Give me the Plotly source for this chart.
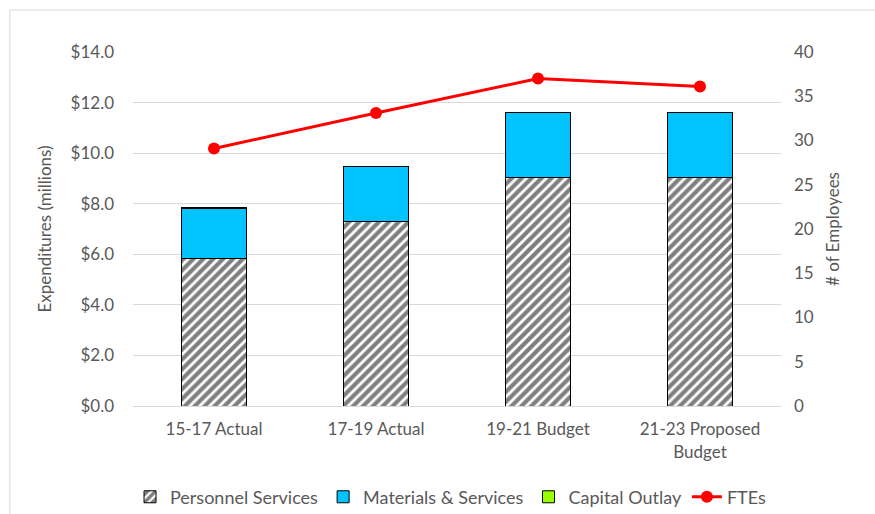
import plotly.graph_objects as go

# Biennium labels and spending (millions of dollars)
periods = ["15-17 Actual", "17-19 Actual", "19-21 Budget", "21-23 Proposed<br>Budget"]
personnel_services = [5.85, 7.29, 9.04, 9.04]
materials_services = [1.96, 2.20, 2.55, 2.57]
capital_outlay = [0.03, 0.0, 0.03, 0.0]
# Full-time equivalent positions
ftes = [29.1, 33.1, 37.0, 36.1]

left_ticks = [0, 2, 4, 6, 8, 10, 12, 14]
left_tick_text = ["$0.0", "$2.0", "$4.0", "$6.0", "$8.0", "$10.0", "$12.0", "$14.0"]
right_ticks = [0, 5, 10, 15, 20, 25, 30, 35, 40]

font_family = "Lato, 'Open Sans', sans-serif"
text_gray = "#595959"
grid_gray = "#d9d9d9"
fs = 17

fig = go.Figure()

fig.add_trace(go.Bar(
    x=periods, y=personnel_services, name="Personnel Services",
    marker=dict(color="white", line=dict(color="black", width=1),
                pattern=dict(shape="/", fgcolor="black", bgcolor="white",
                             size=7, solidity=0.6)),
))
fig.add_trace(go.Bar(
    x=periods, y=materials_services, name="Materials & Services",
    marker=dict(color="#00C3FF", line=dict(color="black", width=1)),
))
fig.add_trace(go.Bar(
    x=periods, y=capital_outlay, name="Capital Outlay",
    marker=dict(color="#99FF00", line=dict(color="black", width=1)),
))
fig.add_trace(go.Scatter(
    x=periods, y=ftes, name="FTEs", yaxis="y2", mode="lines+markers",
    line=dict(color="#FF0000", width=3),
    marker=dict(color="#FF0000", size=12),
))

# Light outer frame around the chart
fig.add_shape(type="rect", xref="paper", yref="paper",
              x0=-0.19, x1=1.4, y0=-0.6, y1=1.1186,
              line=dict(color="#d9d9d9", width=1), fillcolor="rgba(0,0,0,0)",
              layer="below")

fig.update_layout(
    width=875, height=514,
    margin=dict(l=133, r=94, t=52, b=108, autoexpand=False),
    paper_bgcolor="white", plot_bgcolor="white",
    barmode="stack", bargap=0.6,
    font=dict(family=font_family, size=fs, color=text_gray),
    showlegend=True,
    legend=dict(orientation="h", x=0.49, xanchor="center", y=-0.205, yanchor="top",
                traceorder="normal",
                font=dict(size=18, color=text_gray)),
    xaxis=dict(showline=True, linecolor=grid_gray, linewidth=1, automargin=False,
               tickfont=dict(size=fs, color=text_gray), ticks="", ticklabelstandoff=8),
    yaxis=dict(range=[0, 14], tickvals=left_ticks, ticktext=left_tick_text,
               gridcolor=grid_gray, gridwidth=1, zeroline=False, automargin=False,
               ticklabelstandoff=18,
               title=dict(text="Expenditures (millions)", font=dict(size=fs, color=text_gray),
                          standoff=14)),
    yaxis2=dict(range=[0, 40], tickvals=right_ticks, overlaying="y", side="right",
                showgrid=False, zeroline=False, automargin=False, ticklabelstandoff=12,
                title=dict(text="# of Employees", font=dict(size=fs, color=text_gray),
                           standoff=14)),
)

fig.write_html("out.html")
